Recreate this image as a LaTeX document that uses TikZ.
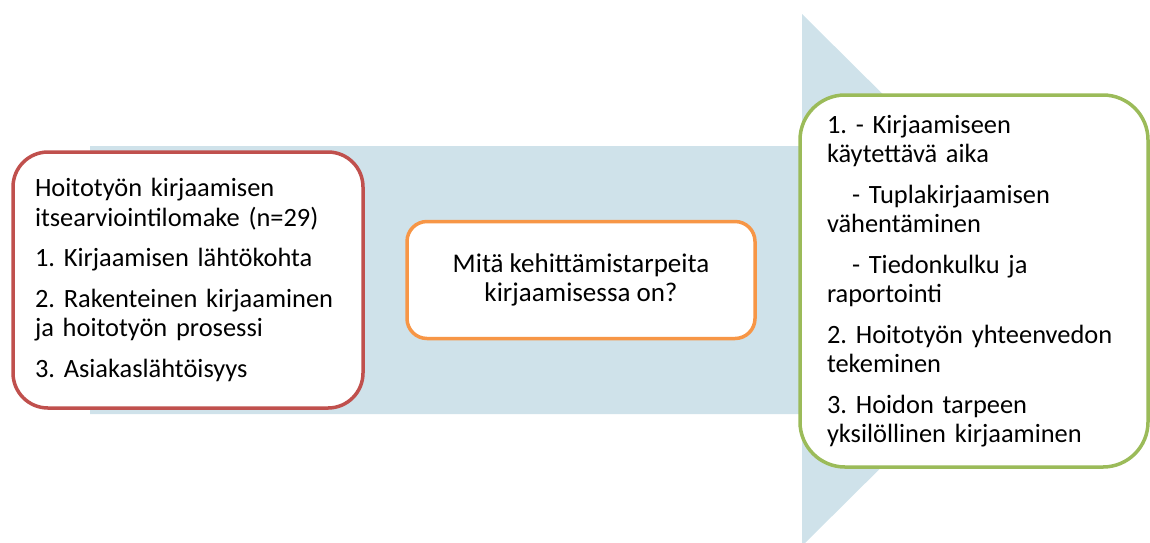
\documentclass[tikz,border=0pt]{standalone}
\usepackage{fontspec}
\setmainfont{Carlito}
\definecolor{arrowblue}{RGB}{207,226,234}
\definecolor{boxred}{RGB}{192,80,77}
\definecolor{boxorange}{RGB}{247,150,70}
\definecolor{boxgreen}{RGB}{155,187,89}
\begin{document}
\frenchspacing
\begin{tikzpicture}[x=1pt,y=-1pt,
  box/.style={draw, line width=3.5pt, fill=white, inner ysep=0pt,
    font=\fontsize{26.4}{29.5}\selectfont}]
\useasboundingbox (0,0) rectangle (1150,542);
\fill[arrowblue] (90,146) -- (802,146) -- (802,14) -- (1070,280) -- (802,546) -- (802,414) -- (90,414) -- cycle;
\node[box, draw=boxred, rounded corners=35pt, inner xsep=22pt, text width=306pt,
  minimum height=256pt, align=left] (red) at (188,280)
  {Hoitotyön kirjaamisen\\itsearviointilomake (n=29)\\[11pt]1. Kirjaamisen lähtökohta\\[11pt]2. Rakenteinen kirjaaminen\\ja hoitotyön prosessi\\[11pt]3. Asiakaslähtöisyys};
\node[box, draw=boxorange, rounded corners=20pt, minimum width=348pt,
  minimum height=117pt, align=center, font=\fontsize{27}{29.5}\selectfont] (orange) at (581,280)
  {Mitä kehittämistarpeita\\kirjaamisessa on?};
\node[box, draw=boxgreen, rounded corners=45pt, inner xsep=27pt, text width=294pt,
  minimum height=372pt, align=left] (green) at (974,281)
  {1. - Kirjaamiseen\\käytettävä aika\\[11pt]\hspace*{25pt}- Tuplakirjaamisen\\vähentäminen\\[11pt]\hspace*{25pt}- Tiedonkulku ja\\raportointi\\[11pt]2. Hoitotyön yhteenvedon\\tekeminen\\[11pt]3. Hoidon tarpeen\\yksilöllinen kirjaaminen};
\end{tikzpicture}
\end{document}
